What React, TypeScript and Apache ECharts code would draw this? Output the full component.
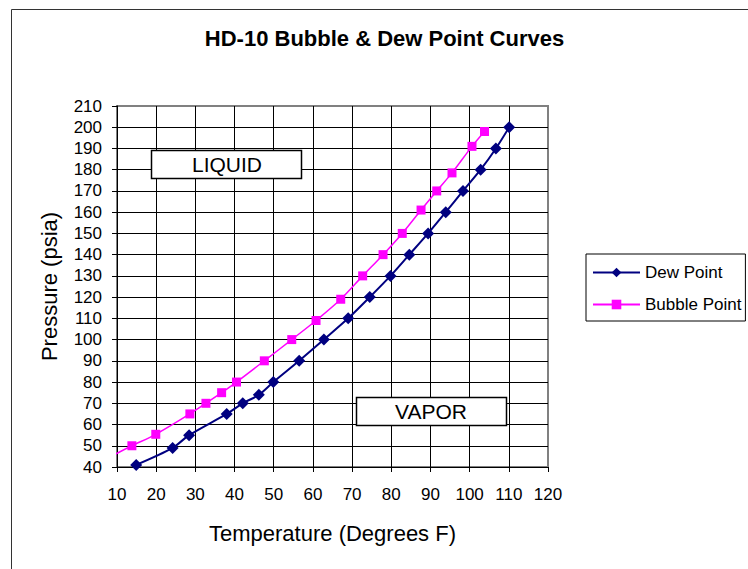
import React, { useEffect, useRef } from "react";
import * as echarts from "echarts";

const FONT = '"Liberation Sans", Arial, sans-serif';

// Dew Point curve (Temperature °F, Pressure psia)
const dewTemp = [14.9, 24.2, 28.4, 38.0, 42.1, 46.2, 49.9, 56.5, 62.8, 69.0, 74.5, 79.8, 84.6, 89.4, 93.9, 98.3, 102.8, 106.7, 110.1];
const dewPressure = [41, 49, 55, 65, 70, 74, 80, 90, 100, 110, 120, 130, 140, 150, 160, 170, 180, 190, 200];

// Bubble Point curve
const bubbleTemp = [13.8, 19.9, 28.6, 32.7, 36.7, 40.5, 47.6, 54.6, 60.8, 67.1, 72.7, 77.9, 82.8, 87.6, 91.6, 95.5, 100.6, 103.8];
const bubblePressure = [50, 55.4, 65, 70, 75, 80, 90, 100, 109, 119, 130, 140, 150, 161, 170, 178.5, 191, 198];
// lead-in of the bubble curve (drawn, no marker)
const bubbleLeadIn = [8.7, 45.2];

const xTicks = { min: 10, max: 120, interval: 10 };
const yTicks = { min: 40, max: 210, interval: 10 };

export default function App() {
  const ref = useRef<HTMLDivElement>(null);

  useEffect(() => {
    if (!ref.current) return;
    const chart = echarts.init(ref.current, undefined, { renderer: "svg" });

    const dewData = dewTemp.map((t, i) => [t, dewPressure[i]]);
    const bubbleData: any[] = [
      { value: bubbleLeadIn, symbol: "none" },
      ...bubbleTemp.map((t, i) => [t, bubblePressure[i]]),
    ];

    const axisCommon = {
      type: "value",
      axisLine: { show: true, onZero: false, lineStyle: { color: "#000", width: 1 } },
      axisTick: { show: true, inside: false, length: 5, lineStyle: { color: "#000", width: 1 } },
      splitLine: { show: true, showMaxLine: false, lineStyle: { color: "#000", width: 1 } },
      nameLocation: "middle",
      nameTextStyle: { fontSize: 22, color: "#000", fontFamily: FONT },
    };

    chart.setOption({
      animation: false,
      backgroundColor: "#fff",
      textStyle: { fontFamily: FONT },
      grid: {
        left: 117,
        right: 200,
        top: 106,
        bottom: 102,
        containLabel: false,
        outerBoundsMode: "none",
        show: true,
        borderColor: "#808080",
        borderWidth: 2,
        backgroundColor: "transparent",
      },
      xAxis: {
        ...axisCommon,
        min: xTicks.min,
        max: xTicks.max,
        interval: xTicks.interval,
        name: "Temperature (Degrees F)",
        nameGap: 55,
        axisLabel: { margin: 19, fontSize: 17, color: "#000", fontFamily: FONT },
      },
      yAxis: {
        ...axisCommon,
        min: yTicks.min,
        max: yTicks.max,
        interval: yTicks.interval,
        name: "Pressure (psia)",
        nameGap: 57,
        axisLabel: { margin: 15, fontSize: 17, color: "#000", fontFamily: FONT },
      },
      legend: {
        orient: "vertical",
        left: 586,
        top: 254,
        padding: [10, 4, 8, 6],
        itemWidth: 47,
        itemHeight: 12,
        itemGap: 15,
        borderColor: "#000",
        borderWidth: 1,
        backgroundColor: "#fff",
        textStyle: { fontSize: 17, color: "#000", fontFamily: FONT },
        data: ["Dew Point", "Bubble Point"],
      },
      series: [
        {
          name: "Bubble Point",
          type: "line",
          data: bubbleData,
          smooth: 0.3,
          clip: false,
          symbol: "rect",
          symbolSize: 9,
          lineStyle: { color: "#FF00FF", width: 1.5 },
          itemStyle: { color: "#FF00FF" },
          z: 3,
        },
        {
          name: "Dew Point",
          type: "line",
          data: dewData,
          smooth: 0.3,
          clip: false,
          symbol: "diamond",
          symbolSize: 12,
          lineStyle: { color: "#000080", width: 2 },
          itemStyle: { color: "#000080" },
          z: 4,
        },
      ],
      graphic: [
        {
          type: "rect",
          shape: { x: 11.5, y: 9.5, width: 800, height: 600 },
          style: { fill: "none", stroke: "#333", lineWidth: 1 },
          silent: true,
          z: 0,
        },
        {
          type: "text",
          x: 384.5,
          y: 38.7,
          style: {
            text: "HD-10 Bubble & Dew Point Curves",
            fill: "#000",
            fontSize: 22,
            fontWeight: "bold",
            fontFamily: FONT,
            align: "center",
            verticalAlign: "middle",
          },
          z: 10,
        },
        {
          type: "rect",
          shape: { x: 151.5, y: 150.5, width: 150, height: 28 },
          style: { fill: "#fff", stroke: "#000", lineWidth: 1.5 },
          z: 10,
        },
        {
          type: "text",
          x: 227,
          y: 164.5,
          style: {
            text: "LIQUID",
            fill: "#000",
            fontSize: 21,
            fontFamily: FONT,
            align: "center",
            verticalAlign: "middle",
          },
          z: 11,
        },
        {
          type: "rect",
          shape: { x: 356.5, y: 397.5, width: 150, height: 28 },
          style: { fill: "#fff", stroke: "#000", lineWidth: 1.5 },
          z: 10,
        },
        {
          type: "text",
          x: 431,
          y: 411.5,
          style: {
            text: "VAPOR",
            fill: "#000",
            fontSize: 21,
            fontFamily: FONT,
            align: "center",
            verticalAlign: "middle",
          },
          z: 11,
        },
      ],
    });

    return () => chart.dispose();
  }, []);

  return (
    <div
      ref={ref}
      style={{ position: "absolute", left: 0, top: 0, width: 748, height: 569 }}
    />
  );
}
